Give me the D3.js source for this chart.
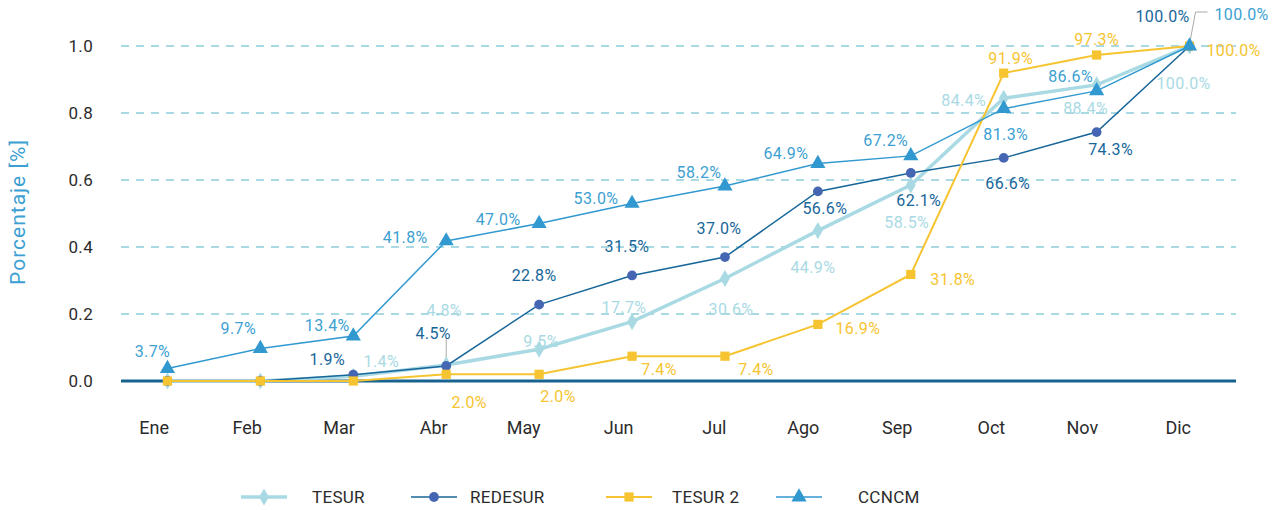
<!DOCTYPE html>
<html><head><meta charset="utf-8">
<script src="https://cdn.jsdelivr.net/npm/d3@7/dist/d3.min.js"></script>
<style>
body{margin:0;background:#fff;}
text{font-family:Roboto,"Noto Sans",sans-serif;}
</style></head>
<body><svg id="chart" width="1283" height="510"></svg>
<script>
const months = ["Ene","Feb","Mar","Abr","May","Jun","Jul","Ago","Sep","Oct","Nov","Dic"];
const yTicks = [0.0,0.2,0.4,0.6,0.8,1.0];
const seriesNames = ["TESUR","REDESUR","TESUR 2","CCNCM"];
const tesur   = [0,0,0.014,0.048,0.095,0.177,0.306,0.449,0.585,0.844,0.884,1.0];
const redesur = [0,0,0.019,0.045,0.228,0.315,0.370,0.566,0.621,0.666,0.743,1.0];
const tesur2  = [0,0,0,0.020,0.020,0.074,0.074,0.169,0.318,0.919,0.973,1.0];
const ccncm   = [0.037,0.097,0.134,0.418,0.470,0.530,0.582,0.649,0.672,0.813,0.866,1.0];

// label offsets (layout only)
const offTesur   = [null,null,[28,-15],[-2,-55],[2,-8],[-8,-14],[6,31],[-5,37],[-4,37],[-40,2],[-11,24],[-6,37]];
const offRedesur = [null,null,[-26,-15],[-13,-33],[-5,-29],[-5,-29],[-6,-29],[7,17],[8,27],[4,26],[14,17],[-27,-30]];
const offTesur2  = [null,null,null,[23,28],[19,22],[27,13],[31,13],[40,4],[42,5],[7,-15],[0,-16],[44,4]];
const offCcncm   = [[-15,-17],[-22,-20],[-26,-11],[-41,-4],[-41,-4],[-36,-5],[-26,-14],[-32,-10],[-25,-15],[2,26],[-26,-14],[52,-32]];

const series = [
  {name:seriesNames[0], values:tesur, off:offTesur, line:"#a9dae4", mark:"#a9dae4", label:"#a9dae4", width:3.5, shape:"diamond"},
  {name:seriesNames[1], values:redesur, off:offRedesur, line:"#17669a", mark:"#4566b3", label:"#17669a", width:1.5, shape:"circle"},
  {name:seriesNames[2], values:tesur2, off:offTesur2, line:"#f6c431", mark:"#f6c431", label:"#f6c431", width:2, shape:"square"},
  {name:seriesNames[3], values:ccncm, off:offCcncm, line:"#3199cf", mark:"#3199cf", label:"#3d9fd2", width:1.5, shape:"triangle"}
];

const svg = d3.select("#chart");
const m = {l:121, r:1236, t:46, b:381};
const x = d3.scalePoint().domain(months).range([m.l, m.r]).padding(0.5);
const y = d3.scaleLinear().domain([0,1]).range([m.b, m.t]);

// grid
svg.append("g").selectAll("line").data(yTicks.filter(d=>d>0)).join("line")
  .attr("x1",m.l).attr("x2",m.r).attr("y1",d=>y(d)).attr("y2",d=>y(d))
  .attr("stroke","#a9dae4").attr("stroke-width",2).attr("stroke-dasharray","8,7");

// y axis
const yAxis = svg.append("g").attr("transform",`translate(${m.l-25},0)`)
  .call(d3.axisLeft(y).tickValues(yTicks).tickFormat(d3.format(".1f")).tickSize(0));
yAxis.select(".domain").remove();
yAxis.selectAll("text").attr("fill","#2b2b2b").attr("font-size",17).attr("dx",0).attr("dy","0.35em")
  .attr("letter-spacing","0.3px");

// x axis
const xAxis = svg.append("g").attr("transform",`translate(0,${m.b+37})`)
  .call(d3.axisBottom(x).tickSize(0));
xAxis.select(".domain").remove();
xAxis.selectAll("text").attr("fill","#2b2b2b").attr("font-size",18).attr("dy","0.71em")
  .attr("text-anchor","end").attr("dx",1);

// zero line
svg.append("line").attr("x1",m.l).attr("x2",m.r).attr("y1",y(0)).attr("y2",y(0))
  .attr("stroke","#17628f").attr("stroke-width",3);

// y title
svg.append("text").attr("transform",`translate(25,212) rotate(-90)`)
  .attr("text-anchor","middle").attr("fill","#3d9fd2").attr("font-size",21)
  .attr("letter-spacing","1px").text("Porcentaje [%]");

// leader lines
svg.append("path").attr("d",`M${x("Abr")},${y(0.045)-3}V${y(0.045)-28}`)
  .attr("stroke","#aaa").attr("stroke-width",1).attr("fill","none");
svg.append("path").attr("d",`M${x("Dic")},${y(1)-2}L${x("Dic")+6},${y(1)-34}H${x("Dic")+18}`)
  .attr("stroke","#aaa").attr("stroke-width",1).attr("fill","none");

function symbolFor(shape){
  return {diamond:d3.symbolDiamond, circle:d3.symbolCircle, square:d3.symbolSquare, triangle:d3.symbolTriangle}[shape];
}
const sizeFor = {diamond:85, circle:75, square:85, triangle:100};

const line = d3.line().x((d,i)=>x(months[i])).y(d=>y(d));
series.forEach(s=>{
  const g = svg.append("g");
  g.append("path").datum(s.values).attr("d",line).attr("fill","none")
    .attr("stroke",s.line).attr("stroke-width",s.width);
  g.selectAll("path.pt").data(s.values).join("path").attr("class","pt")
    .attr("transform",(d,i)=>`translate(${x(months[i])},${y(d)})`)
    .attr("d",d3.symbol().type(symbolFor(s.shape)).size(sizeFor[s.shape]))
    .attr("fill",s.mark);
});
series.forEach(s=>{
  svg.append("g").selectAll("text").data(s.values.map((v,i)=>({v,i,o:s.off[i]})).filter(d=>d.o))
    .join("text")
    .attr("x",d=>x(months[d.i])+d.o[0]).attr("y",d=>y(d.v)+d.o[1])
    .attr("text-anchor","middle").attr("dy","0.35em")
    .attr("font-size",16).attr("letter-spacing","0.4px").attr("fill",s.label)
    .text(d=>d3.format(".1f")(d.v*100)+"%");
});

// legend
const legX = [241, 411, 606, 776];
const legTextX = [312, 470, 672, 858];
const leg = svg.append("g");
series.forEach((s,i)=>{
  const lx = legX[i], ly = 497;
  leg.append("line").attr("x1",lx).attr("x2",lx+46).attr("y1",ly).attr("y2",ly)
    .attr("stroke",s.line).attr("stroke-width",s.width);
  leg.append("path").attr("transform",`translate(${lx+23},${ly})`)
    .attr("d",d3.symbol().type(symbolFor(s.shape)).size(sizeFor[s.shape]))
    .attr("fill",s.mark);
  leg.append("text").attr("x",legTextX[i]).attr("y",ly).attr("dy","0.35em")
    .attr("font-size",17).attr("letter-spacing","0.3px").attr("fill","#2b2b2b").text(s.name);
});
</script></body></html>
